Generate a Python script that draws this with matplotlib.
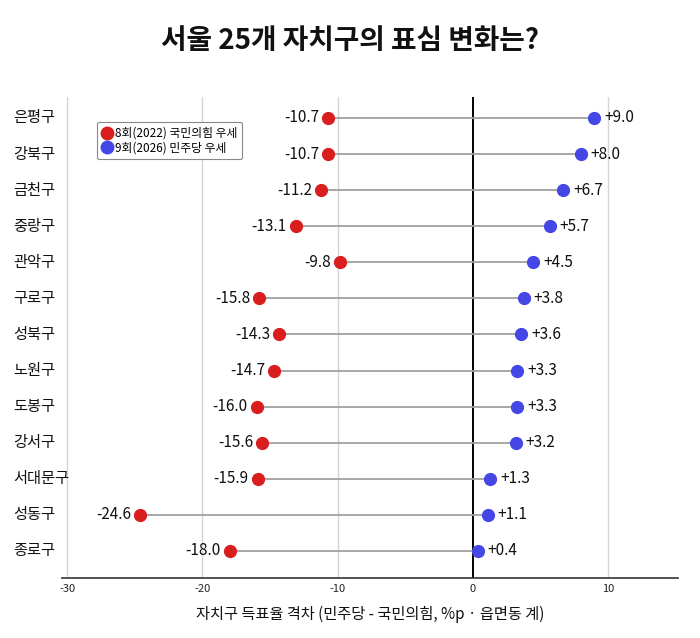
import matplotlib
matplotlib.use("Agg")
import matplotlib.pyplot as plt
from matplotlib.lines import Line2D
import matplotlib.transforms as mtransforms

plt.rcParams['font.family'] = ['Noto Sans CJK KR', 'DejaVu Sans']

districts = ["은평구", "강북구", "금천구", "중랑구", "관악구", "구로구", "성북구",
             "노원구", "도봉구", "강서구", "서대문구", "성동구", "종로구"]
gap_2022 = [-10.7, -10.7, -11.2, -13.1, -9.8, -15.8, -14.3, -14.7, -16.0, -15.6, -15.9, -24.6, -18.0]
gap_2026 = [9.0, 8.0, 6.7, 5.7, 4.5, 3.8, 3.6, 3.3, 3.3, 3.2, 1.3, 1.1, 0.4]
xticks = [-30, -20, -10, 0, 10]

title = "서울 25개 자치구의 표심 변화는?"
xlabel = "자치구 득표율 격차 (민주당 - 국민의힘, %p · 읍면동 계)"
legend_labels = ["8회(2022) 국민의힘 우세", "9회(2026) 민주당 우세"]

RED = "#d81e1e"
BLUE = "#4446e6"

fig = plt.figure(figsize=(7.0, 6.38), dpi=100)
ax = fig.add_axes([62 / 700, 1 - 578 / 638, 616 / 700, 481 / 638])

ax.set_xlim(-30.4, 15.2)
ax.set_ylim(12.75, -0.58)

for x in xticks:
    if x == 0:
        ax.axvline(x, color="black", lw=1.4, zorder=1)
    else:
        ax.axvline(x, color="#d6d6d6", lw=1.0, zorder=0)

for i, (a, b) in enumerate(zip(gap_2022, gap_2026)):
    ax.plot([a, b], [i, i], color="#a0a0a0", lw=1.3, zorder=2)
    ax.plot(a, i, "o", color=RED, ms=8.5, zorder=3)
    ax.plot(b, i, "o", color=BLUE, ms=8.5, zorder=3)
    ax.annotate(f"{a:.1f}", (a, i), xytext=(-6.5, 0), textcoords="offset points",
                ha="right", va="center", fontsize=11, color="#111111")
    ax.annotate(f"+{b:.1f}", (b, i), xytext=(7, 0), textcoords="offset points",
                ha="left", va="center", fontsize=11, color="#111111")

trans = mtransforms.blended_transform_factory(fig.transFigure, ax.transData)
for i, d in enumerate(districts):
    ax.text(13 / 700, i, d, transform=trans, ha="left", va="center",
            fontsize=11, fontweight="medium", color="#111111")

ax.set_xticks(xticks)
ax.set_xticklabels([str(x) for x in xticks], fontsize=8, color="#222222")
ax.set_yticks([])
ax.tick_params(axis="x", length=0, pad=4)
for s in ["top", "right", "left"]:
    ax.spines[s].set_visible(False)
ax.spines["bottom"].set_color("#333333")
ax.spines["bottom"].set_linewidth(1.2)

ax.set_xlabel(xlabel, fontsize=11, fontweight="medium", color="#111111", labelpad=9)

handles = [Line2D([], [], marker="o", ls="none", color=RED, ms=9),
           Line2D([], [], marker="o", ls="none", color=BLUE, ms=9)]
leg = ax.legend(handles, legend_labels, loc="upper left", bbox_to_anchor=(0.057, 0.948),
                fontsize=8.5, frameon=True, fancybox=True, handletextpad=0.3,
                handlelength=0.8, borderpad=0.4, labelspacing=0.15, framealpha=1,
                borderaxespad=0.0)
leg.get_frame().set_edgecolor("#888888")
leg.get_frame().set_linewidth(0.8)

fig.text(0.5, 0.935, title, ha="center", va="center", fontsize=20,
         fontweight="heavy", color="#111111")

fig.savefig("out.png", dpi=100, facecolor="white")
